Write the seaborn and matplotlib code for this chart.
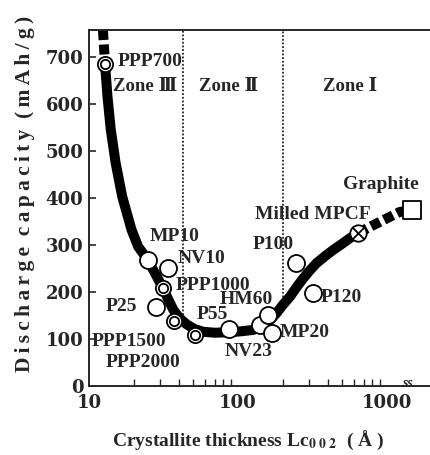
import numpy as np
import pandas as pd
import matplotlib
matplotlib.use("Agg")
import matplotlib.pyplot as plt
import seaborn as sns

# ---------------- data ----------------
curve_x = [12.8, 13.3, 14.0, 15.1, 16.7, 19.3, 21.4, 23.3, 25.0, 27.7, 31.2, 36.8, 40.8,
           45.2, 51.0, 58.5, 70, 88, 105, 127, 143, 156, 168, 182, 200, 224, 248, 275,
           305, 337, 385, 436, 500, 564, 643]
curve_y = [687, 616, 545, 474, 403, 332, 296, 280, 266, 240, 209, 162, 143,
           131, 121, 115, 113, 114, 116, 119, 125, 133, 143, 155, 172, 190, 210, 229,
           246, 261, 276, 289, 302, 314, 325]
top_dash_x = [12.4, 12.8]
top_dash_y = [757, 687]
end_dash_x = [643, 745, 1222, 1466]
end_dash_y = [325, 336, 370, 374]

open_names = ["MP10", "NV10", "P25", "P55", "NV23", "HM60", "MP20", "P100", "P120"]
open_x = [25.0, 33.9, 28.2, 87.6, 141, 160, 170, 245, 320]
open_y = [268, 251, 168, 120, 130, 151, 113, 262, 197]

double_names = ["PPP700", "PPP1000", "PPP1500", "PPP2000"]
double_x = [12.8, 31.2, 37.2, 51.5]
double_y = [685, 209, 138, 108]

cross_name = ["Milled MPCF"]
cross_x = [643]
cross_y = [325]

square_name = ["Graphite"]
square_x = [1466]
square_y = [374]

zone_labels = ["Zone \u2162", "Zone \u2161", "Zone \u2160"]
zone_bounds = [42.8, 201]

y_ticks = [0, 100, 200, 300, 400, 500, 600, 700]
x_ticks = [10, 100, 1000]

# label text anchors
label_text = ["PPP700", "MP10", "NV10", "PPP1000", "P25", "PPP1500", "PPP2000", "P55",
              "NV23", "HM60", "MP20", "P100", "P120", "Milled MPCF", "Graphite"]
label_x = [15.5, 25.7, 39.6, 38.4, 21, 10.4, 13.0, 53, 118, 75.7, 190, 126, 362, 130, 507]
label_y = [689, 317, 270, 213, 168, 94, 49, 151, 72, 183, 113, 300, 189, 364, 428]
label_ha = ["left", "left", "left", "left", "right", "left", "left", "left",
            "center", "left", "left", "left", "left", "left", "left"]

# ---------------- style ----------------
sns.set_style("ticks")
FAM = ["Liberation Serif", "DejaVu Serif", "Noto Sans CJK JP", "DejaVu Sans"]
plt.rcParams["font.family"] = FAM
plt.rcParams["mathtext.fontset"] = "stix"

fig = plt.figure(figsize=(4.30, 4.55), dpi=100)
ax = fig.add_axes([0.207, 0.152, 0.793, 0.782])
ax.set_xscale("log")

lw = 7.2
sns.lineplot(x=curve_x, y=curve_y, sort=False, estimator=None, ax=ax,
             color="black", lw=lw, solid_capstyle="butt", solid_joinstyle="round", zorder=2)
for xs, ys in [(top_dash_x, top_dash_y), (end_dash_x, end_dash_y)]:
    sns.lineplot(x=xs, y=ys, sort=False, estimator=None, ax=ax, color="black",
                 lw=lw, zorder=2)
    ax.lines[-1].set_dashes((1.0, 0.45))
    ax.lines[-1].set_dash_capstyle("butt")

# zone dividers
ax.vlines(zone_bounds[0], 150, 760, colors="black", linestyles=(0, (1.2, 1.2)), lw=1.1, zorder=1)
ax.vlines(zone_bounds[1], 180, 760, colors="black", linestyles=(0, (1.2, 1.2)), lw=1.1, zorder=1)

# markers
sns.scatterplot(x=open_x, y=open_y, ax=ax, marker="o", s=150, facecolor="white",
                edgecolor="black", linewidth=1.3, zorder=4)
sns.scatterplot(x=double_x, y=double_y, ax=ax, marker="o", s=120, facecolor="white",
                edgecolor="black", linewidth=1.3, zorder=4)
sns.scatterplot(x=double_x, y=double_y, ax=ax, marker="o", s=45, facecolor="white",
                edgecolor="black", linewidth=1.3, zorder=5)
sns.scatterplot(x=cross_x, y=cross_y, ax=ax, marker="o", s=140, facecolor="white",
                edgecolor="black", linewidth=1.3, zorder=4)
sns.scatterplot(x=cross_x, y=cross_y, ax=ax, marker="x", s=70, color="black",
                linewidth=1.3, zorder=5)
sns.scatterplot(x=square_x, y=square_y, ax=ax, marker="s", s=170, facecolor="white",
                edgecolor="black", linewidth=1.3, zorder=4)

# labels
for t, x, y, ha in zip(label_text, label_x, label_y, label_ha):
    ax.text(x, y, t, ha=ha, va="center", fontsize=14, fontweight="bold", zorder=6)

zone_x = [23.8, 87, 565]
for t, x in zip(zone_labels, zone_x):
    ax.text(x, 636, t, ha="center", va="center", fontsize=13.5, fontweight="bold",
            family=FAM)

# break symbol on x axis
ax.text(1380, 6, "ss", ha="center", va="center", fontsize=10, fontstyle="italic",
        fontweight="bold", zorder=6)

# axes
ax.set_xlim(10, 1950)
ax.set_ylim(0, 757)
ax.set_yticks(y_ticks)
ax.set_yticklabels([str(v) for v in y_ticks])
ax.set_xticks(x_ticks)
ax.set_xticklabels([str(v) for v in x_ticks])
ax.tick_params(axis="both", which="both", direction="in", labelsize=13)
ax.tick_params(axis="y", length=5, width=1.2, pad=4)
ax.tick_params(axis="x", which="major", length=0, pad=6)
ax.tick_params(axis="x", which="minor", length=5, width=1.0)
for lab in ax.get_xticklabels() + ax.get_yticklabels():
    lab.set_fontweight("bold")
    lab.set_family(["DejaVu Serif"])
ax.spines["right"].set_visible(False)
for s in ["left", "bottom", "top"]:
    ax.spines[s].set_linewidth(1.4)
ax.set_xlabel("")
ax.set_ylabel("")

ylab = "\u2009".join("Discharge") + "  " + "\u2009".join("capacity") + "  (\u2009m\u2009A\u2009h\u2009/\u2009g\u2009)"
fig.text(0.058, 0.574, ylab, rotation=90, ha="center", va="center",
         fontsize=15.5, fontweight="bold")
fig.text(0.577, 0.033, r"Crystallite thickness Lc$_{\mathbf{0\ 0\ 2}}$  ( Å )",
         ha="center", va="center", fontsize=14, fontweight="bold")

fig.savefig("out.png", dpi=100)
